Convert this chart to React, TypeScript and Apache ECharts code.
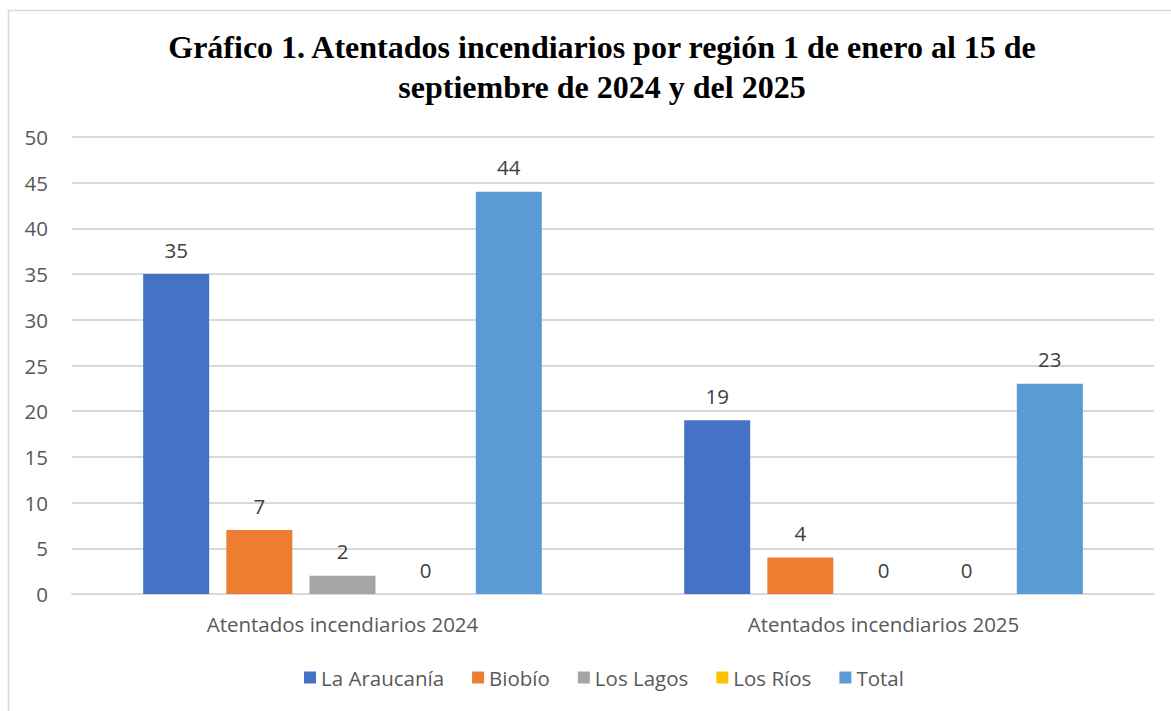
import React, { useEffect, useRef } from "react";
import * as echarts from "echarts";

const categories = ["Atentados incendiarios 2024", "Atentados incendiarios 2025"];
const seriesNames = ["La Araucanía", "Biobío", "Los Lagos", "Los Ríos", "Total"];
const laAraucania = [35, 19];
const biobio = [7, 4];
const losLagos = [2, 0];
const losRios = [0, 0];
const total = [44, 23];
const colors = ["#4472C4", "#ED7D31", "#A5A5A5", "#FFC000", "#5B9BD5"];

export default function App() {
  const ref = useRef<HTMLDivElement>(null);
  useEffect(() => {
    document.body.style.margin = "0";
    const chart = echarts.init(ref.current!, undefined, { renderer: "svg" });
    const values = [laAraucania, biobio, losLagos, losRios, total];
    const font = "'Open Sans', Lato, sans-serif";
    chart.setOption({
      animation: false,
      color: colors,
      graphic: [
        {
          type: "rect",
          shape: { x: 8.5, y: 10.5, width: 1250, height: 800 },
          style: { fill: "none", stroke: "#d9d9d9", lineWidth: 1.5 },
          silent: true,
        },
      ],
      title: {
        text: "Gráfico 1. Atentados incendiarios por región 1 de enero al 15 de\nseptiembre de 2024 y del 2025",
        left: 597,
        textAlign: "center",
        top: 22,
        textStyle: {
          fontFamily: "'Liberation Serif', 'Times New Roman', serif",
          fontWeight: "bold",
          fontSize: 32,
          lineHeight: 40,
          color: "#000",
        },
      },
      legend: {
        bottom: 18,
        left: 299,
        itemWidth: 12,
        itemHeight: 12,
        itemGap: 28,
        icon: "rect",
        textStyle: { fontFamily: font, fontSize: 20.5, color: "#595959" },
        data: seriesNames,
      },
      grid: { left: 72, right: 17, top: 137, bottom: 117, containLabel: false },
      xAxis: {
        type: "category",
        data: categories,
        axisLine: { lineStyle: { color: "#d9d9d9", width: 2 } },
        axisTick: { show: false },
        axisLabel: { fontFamily: font, fontSize: 20.5, color: "#595959", margin: 19 },
      },
      yAxis: {
        type: "value",
        min: 0,
        max: 50,
        interval: 5,
        axisLine: { show: false },
        axisTick: { show: false },
        splitLine: { lineStyle: { color: "#d9d9d9", width: 2 } },
        axisLabel: { fontFamily: font, fontSize: 20.5, color: "#595959", margin: 24 },
      },
      series: seriesNames.map((name, i) => ({
        name,
        type: "bar",
        data: values[i],
        barWidth: 66,
        barGap: "26%",
        label: {
          show: true,
          position: "top",
          distance: 14,
          fontFamily: font,
          fontSize: 20.5,
          color: "#404040",
        },
      })),
    });
    return () => chart.dispose();
  }, []);
  return <div ref={ref} style={{ width: 1171, height: 711 }} />;
}
